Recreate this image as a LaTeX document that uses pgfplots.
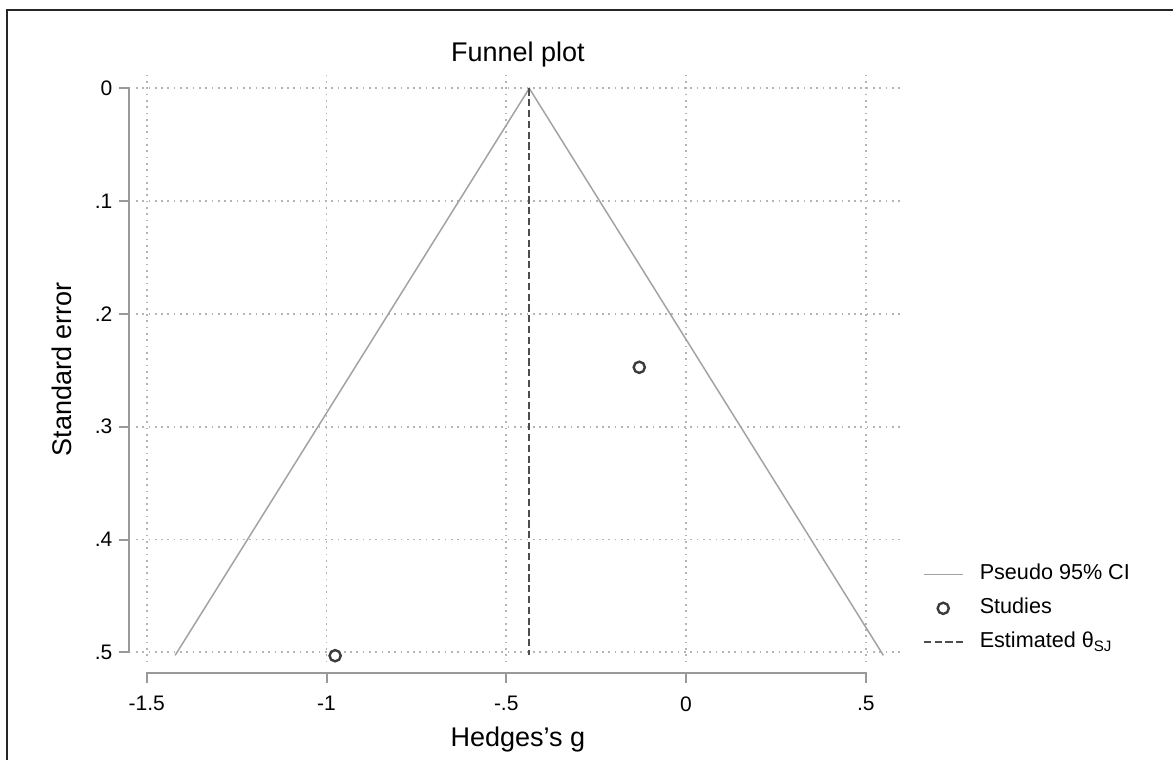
\documentclass[border=0pt]{standalone}
\usepackage{fontspec}
\setmainfont{Liberation Sans}
\usepackage{pgfplots}
\pgfplotsset{compat=1.18}
\definecolor{cigray}{HTML}{A3A3A3}
\definecolor{gridgray}{HTML}{B4B4B4}
\definecolor{axgray}{HTML}{999999}
\definecolor{estgray}{HTML}{4D4D4D}
\definecolor{ptgray}{HTML}{3C3C3C}
\pgfplotsset{
  linelegend/.style={legend image code/.code={\draw[##1] (0pt,0pt) -- (19.5pt,0pt);}},
  marklegend/.style={legend image code/.code={\draw[##1] plot coordinates {(9.75pt,0pt)};}},
}

\begin{document}
\begin{tikzpicture}
\path[use as bounding box] (0,0) rectangle (586.5pt,380pt);
\fill[white] (0,0) rectangle (586.5pt,380pt);
\draw[line width=1pt, black!85] (3.25pt,-2pt) -- (3.25pt,375pt) -- (590pt,375pt);

\begin{axis}[
  at={(258.97pt,195.4pt)}, anchor=center,
  x=179.75pt, y=564pt, y dir=reverse,
  xmin=-1.53, xmax=0.595, ymin=-0.012, ymax=0.51,
  axis line style={draw=none},
  major tick length=0pt,
  xtick={-1.5,-1,-0.5,0,0.5},
  xticklabels={-1.5,-1,-.5,0,.5},
  ytick={0,0.1,0.2,0.3,0.4,0.5},
  yticklabels={0,.1,.2,.3,.4,.5},
  grid=major,
  major grid style={gridgray, line width=0.85pt, dash pattern=on 0.85pt off 2.3pt},
  tick label style={font=\fontsize{10.5}{12}\selectfont, inner sep=0pt},
  xticklabel style={anchor=north, yshift=-16.2pt},
  yticklabel style={anchor=east, xshift=-11.6pt},
  clip=false,
  legend cell align=left,
  legend style={at={(1.0298,0.0939)}, anchor=west, draw=none, fill=none,
    inner sep=0pt, outer sep=0pt, font=\fontsize{10.8}{12}\selectfont,
    row sep=6.5pt,
    nodes={inner sep=0pt, text height=8pt, text depth=2.5pt},
    /tikz/every odd column/.append style={column sep=8pt}},
  linelegend,
]
\addplot[cigray, line width=0.75pt] coordinates {(-1.421,0.5027) (-0.436,0) (0.549,0.5027)};
\addlegendentry{Pseudo 95\% CI}
\addplot[only marks, mark=o, mark size=2.8pt, ptgray, line width=1.2pt, marklegend]
  coordinates {(-0.976,0.503) (-0.130,0.2473)};
\addlegendentry{Studies}
\addplot[estgray, line width=1.05pt, dash pattern=on 3.6pt off 1.8pt] coordinates {(-0.436,0) (-0.436,0.5027)};
\addlegendentry{Estimated θ\textsubscript{SJ}}

% axis lines in the Stata style, offset from the plot region
\draw[axgray, line width=1pt]
  (axis cs:-1.5772,0) -- (axis cs:-1.5494,0) -- (axis cs:-1.5494,0.5) -- (axis cs:-1.5772,0.5)
  (axis cs:-1.5772,0.1) -- (axis cs:-1.5494,0.1)
  (axis cs:-1.5772,0.2) -- (axis cs:-1.5494,0.2)
  (axis cs:-1.5772,0.3) -- (axis cs:-1.5494,0.3)
  (axis cs:-1.5772,0.4) -- (axis cs:-1.5494,0.4);
\draw[axgray, line width=1pt]
  (axis cs:-1.5,0.5271) -- (axis cs:-1.5,0.5181) -- (axis cs:0.5,0.5181) -- (axis cs:0.5,0.5271)
  (axis cs:-1,0.5271) -- (axis cs:-1,0.5181)
  (axis cs:-0.5,0.5271) -- (axis cs:-0.5,0.5181)
  (axis cs:0,0.5271) -- (axis cs:0,0.5181);
\end{axis}

\node[anchor=base, font=\fontsize{13.5}{15}\selectfont, inner sep=0pt] at (258.97pt,349.15pt) {Funnel plot};
\node[anchor=base, font=\fontsize{13.5}{15}\selectfont, inner sep=0pt] at (258.97pt,6.65pt) {Hedges's g};
\node[anchor=base, rotate=90, font=\fontsize{13.5}{15}\selectfont, inner sep=0pt] at (35.85pt,195.4pt) {Standard error};
\end{tikzpicture}
\end{document}
